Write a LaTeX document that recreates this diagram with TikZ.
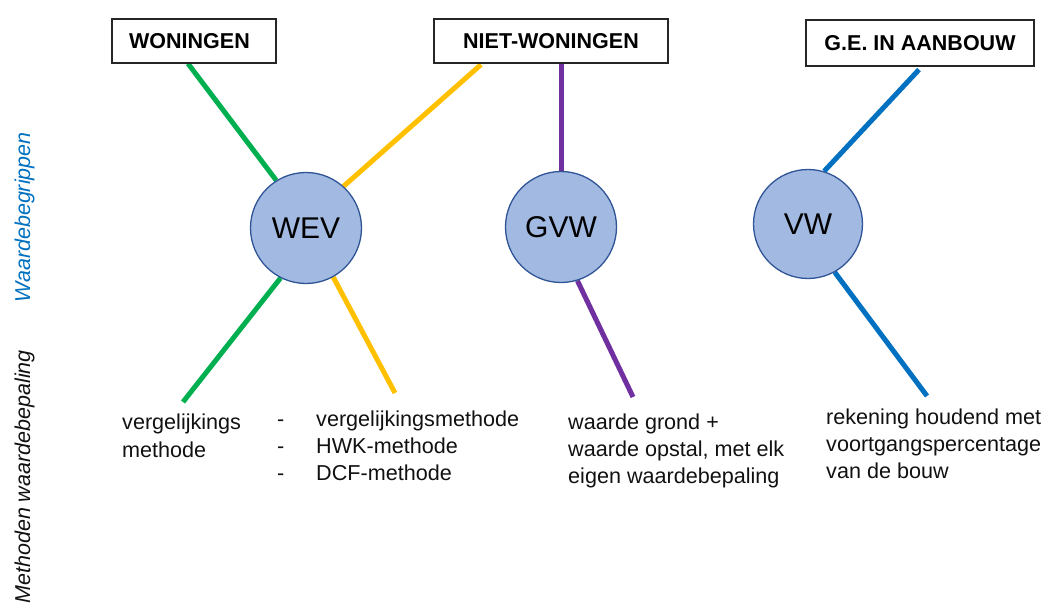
\documentclass[tikz,border=0pt]{standalone}
\usepackage{fontspec}
\setmainfont{Liberation Sans}
\usetikzlibrary{backgrounds}
\definecolor{cgreen}{HTML}{00B050}
\definecolor{corange}{HTML}{FFC000}
\definecolor{cpurple}{HTML}{7030A0}
\definecolor{cblue}{HTML}{0070C0}
\definecolor{cfill}{HTML}{A2B9E1}
\definecolor{cedge}{HTML}{2F5597}
\definecolor{ctext}{HTML}{111111}
\tikzset{
  catbox/.style={draw=black!85, line width=1.2pt, fill=white, inner sep=0pt,
    minimum height=44pt, font=\fontsize{21.5}{26}\selectfont\bfseries, text=black},
  valcircle/.style={circle, draw=cedge, line width=1.3pt, fill=cfill, inner sep=0pt,
    minimum size=111pt, font=\fontsize{30}{34}\selectfont, text=black},
  conn/.style={line width=5pt},
  body/.style={anchor=base west, inner sep=0pt, font=\fontsize{21.6}{26}\selectfont, text=ctext},
  sidelabel/.style={rotate=90, inner sep=0pt, font=\fontsize{21.5}{26}\selectfont\itshape}
}
\begin{document}
\begin{tikzpicture}[x=1pt,y=-1pt]
\useasboundingbox (0,0) rectangle (1051,604);
% category boxes
\node[catbox, minimum width=164pt] (wo) at (194,41) {\kern-9pt WONINGEN};
\node[catbox, minimum width=234pt] (nw) at (551,41) {NIET-WONINGEN};
\node[catbox, minimum width=228pt, minimum height=46pt] (ge) at (920,43) {G.E. IN AANBOUW};
% value circles
\node[valcircle] (wev) at (306,228) {WEV};
\node[valcircle] (gvw) at (561,227) {GVW};
\node[valcircle, minimum size=109pt] (vw) at (808,224) {VW};
% connector end points
\coordinate (g1) at ([xshift=-6pt]wo.south);
\coordinate (o1) at ([xshift=-70pt,yshift=-1pt]nw.south);
\coordinate (p1) at ([xshift=10pt]nw.south);
\coordinate (b1) at ([xshift=-1pt,yshift=-3pt]ge.south);
\coordinate (g2) at (183,402);
\coordinate (o2) at (395,393);
\coordinate (p2) at (633,397);
\coordinate (b2) at (927,396);
\begin{scope}[on background layer]
\draw[conn, cgreen] (g1) -- (wev.122);
\draw[conn, corange] (o1) -- (wev.48);
\draw[conn, cpurple] (p1) -- (gvw.north);
\draw[conn, cblue] (b1) -- (vw.73);
\draw[conn, cgreen] (wev.243) -- (g2);
\draw[conn, corange] (wev.299) -- (o2);
\draw[conn, cpurple] (gvw.287) -- (p2);
\draw[conn, cblue] (vw.299.5) -- (b2);
\end{scope}
% side labels
\node[sidelabel, anchor=base, text=cblue] (lw) at (30,217.5) {Waardebegrippen};
\node[sidelabel, anchor=base east, text=ctext] (lm) at (30,350) {Methoden waardebepaling};
% method texts
\node[body] (t1a) at (122,429) {vergelijkings};
\node[body] (t1b) at (122,457) {methode};
\node[body] (d1) at (277,426) {-};
\node[body] (d2) at (277,453) {-};
\node[body] (d3) at (277,480) {-};
\node[body] (t2a) at (316,426) {vergelijkingsmethode};
\node[body] (t2b) at (316,453) {HWK-methode};
\node[body] (t2c) at (316,480) {DCF-methode};
\node[body] (t3a) at (568,429) {waarde grond +};
\node[body] (t3b) at (568,456) {waarde opstal, met elk};
\node[body] (t3c) at (568,483) {eigen waardebepaling};
\node[body] (t4a) at (826,424) {rekening houdend met};
\node[body] (t4b) at (826,451) {voortgangspercentage};
\node[body] (t4c) at (826,478) {van de bouw};
\end{tikzpicture}
\end{document}
